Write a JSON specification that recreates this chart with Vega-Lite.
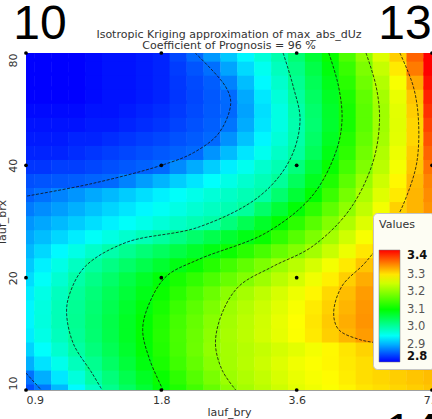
{
"$schema": "https://vega.github.io/schema/vega-lite/v6.json",
"width": 406, "height": 337,
"autosize": {"type": "none"},
"padding": {"left": 26, "top": 53, "right": 0, "bottom": 29},
"background": "white",
"config": {"font": "DejaVu Sans", "view": {"stroke": "#a0a0a0", "strokeWidth": 1}},
"title": {"text": ["Isotropic Kriging  approximation of max_abs_dUz", "Coefficient of Prognosis = 96 %"], "fontSize": 11, "fontWeight": "normal", "color": "#333", "anchor": "middle", "offset": 3, "dy": 53, "lineHeight": 11},
"datasets": {
"grid": [
{"x":0.9,"y":10,"v":2.845},{"x":0.981,"y":10,"v":2.868},{"x":1.07,"y":10,"v":2.905},{"x":1.167,"y":10,"v":2.943},{"x":1.273,"y":10,"v":2.981},{"x":1.388,"y":10,"v":3.014},{"x":1.514,"y":10,"v":3.041},{"x":1.651,"y":10,"v":3.068},{"x":1.8,"y":10,"v":3.095},{"x":1.963,"y":10,"v":3.121},{"x":2.141,"y":10,"v":3.147},{"x":2.334,"y":10,"v":3.173},{"x":2.546,"y":10,"v":3.2},{"x":2.776,"y":10,"v":3.219},{"x":3.027,"y":10,"v":3.234},{"x":3.301,"y":10,"v":3.249},{"x":3.6,"y":10,"v":3.265},{"x":3.926,"y":10,"v":3.274},{"x":4.281,"y":10,"v":3.283},{"x":4.669,"y":10,"v":3.291},{"x":5.091,"y":10,"v":3.3},{"x":5.552,"y":10,"v":3.305},{"x":6.055,"y":10,"v":3.31},{"x":6.603,"y":10,"v":3.315},{"x":7.2,"y":10,"v":3.32},
{"x":0.9,"y":10.91,"v":2.865},{"x":0.981,"y":10.91,"v":2.899},{"x":1.07,"y":10.91,"v":2.932},{"x":1.167,"y":10.91,"v":2.966},{"x":1.273,"y":10.91,"v":3.0},{"x":1.388,"y":10.91,"v":3.026},{"x":1.514,"y":10.91,"v":3.053},{"x":1.651,"y":10.91,"v":3.079},{"x":1.8,"y":10.91,"v":3.106},{"x":1.963,"y":10.91,"v":3.133},{"x":2.141,"y":10.91,"v":3.161},{"x":2.334,"y":10.91,"v":3.188},{"x":2.546,"y":10.91,"v":3.213},{"x":2.776,"y":10.91,"v":3.227},{"x":3.027,"y":10.91,"v":3.241},{"x":3.301,"y":10.91,"v":3.256},{"x":3.6,"y":10.91,"v":3.27},{"x":3.926,"y":10.91,"v":3.279},{"x":4.281,"y":10.91,"v":3.287},{"x":4.669,"y":10.91,"v":3.296},{"x":5.091,"y":10.91,"v":3.305},{"x":5.552,"y":10.91,"v":3.31},{"x":6.055,"y":10.91,"v":3.315},{"x":6.603,"y":10.91,"v":3.32},{"x":7.2,"y":10.91,"v":3.325},
{"x":0.9,"y":11.89,"v":2.9},{"x":0.981,"y":11.89,"v":2.929},{"x":1.07,"y":11.89,"v":2.957},{"x":1.167,"y":11.89,"v":2.986},{"x":1.273,"y":11.89,"v":3.013},{"x":1.388,"y":11.89,"v":3.039},{"x":1.514,"y":11.89,"v":3.065},{"x":1.651,"y":11.89,"v":3.091},{"x":1.8,"y":11.89,"v":3.118},{"x":1.963,"y":11.89,"v":3.145},{"x":2.141,"y":11.89,"v":3.172},{"x":2.334,"y":11.89,"v":3.199},{"x":2.546,"y":11.89,"v":3.218},{"x":2.776,"y":11.89,"v":3.233},{"x":3.027,"y":11.89,"v":3.247},{"x":3.301,"y":11.89,"v":3.261},{"x":3.6,"y":11.89,"v":3.275},{"x":3.926,"y":11.89,"v":3.283},{"x":4.281,"y":11.89,"v":3.29},{"x":4.669,"y":11.89,"v":3.298},{"x":5.091,"y":11.89,"v":3.305},{"x":5.552,"y":11.89,"v":3.311},{"x":6.055,"y":11.89,"v":3.318},{"x":6.603,"y":11.89,"v":3.324},{"x":7.2,"y":11.89,"v":3.33},
{"x":0.9,"y":12.97,"v":2.92},{"x":0.981,"y":12.97,"v":2.947},{"x":1.07,"y":12.97,"v":2.974},{"x":1.167,"y":12.97,"v":3.001},{"x":1.273,"y":12.97,"v":3.025},{"x":1.388,"y":12.97,"v":3.049},{"x":1.514,"y":12.97,"v":3.073},{"x":1.651,"y":12.97,"v":3.098},{"x":1.8,"y":12.97,"v":3.124},{"x":1.963,"y":12.97,"v":3.151},{"x":2.141,"y":12.97,"v":3.178},{"x":2.334,"y":12.97,"v":3.205},{"x":2.546,"y":12.97,"v":3.219},{"x":2.776,"y":12.97,"v":3.231},{"x":3.027,"y":12.97,"v":3.242},{"x":3.301,"y":12.97,"v":3.254},{"x":3.6,"y":12.97,"v":3.265},{"x":3.926,"y":12.97,"v":3.277},{"x":4.281,"y":12.97,"v":3.289},{"x":4.669,"y":12.97,"v":3.3},{"x":5.091,"y":12.97,"v":3.312},{"x":5.552,"y":12.97,"v":3.325},{"x":6.055,"y":12.97,"v":3.335},{"x":6.603,"y":12.97,"v":3.34},{"x":7.2,"y":12.97,"v":3.34},
{"x":0.9,"y":14.14,"v":2.935},{"x":0.981,"y":14.14,"v":2.96},{"x":1.07,"y":14.14,"v":2.985},{"x":1.167,"y":14.14,"v":3.009},{"x":1.273,"y":14.14,"v":3.032},{"x":1.388,"y":14.14,"v":3.055},{"x":1.514,"y":14.14,"v":3.078},{"x":1.651,"y":14.14,"v":3.101},{"x":1.8,"y":14.14,"v":3.127},{"x":1.963,"y":14.14,"v":3.152},{"x":2.141,"y":14.14,"v":3.177},{"x":2.334,"y":14.14,"v":3.202},{"x":2.546,"y":14.14,"v":3.221},{"x":2.776,"y":14.14,"v":3.236},{"x":3.027,"y":14.14,"v":3.252},{"x":3.301,"y":14.14,"v":3.267},{"x":3.6,"y":14.14,"v":3.283},{"x":3.926,"y":14.14,"v":3.298},{"x":4.281,"y":14.14,"v":3.314},{"x":4.669,"y":14.14,"v":3.33},{"x":5.091,"y":14.14,"v":3.345},{"x":5.552,"y":14.14,"v":3.355},{"x":6.055,"y":14.14,"v":3.36},{"x":6.603,"y":14.14,"v":3.36},{"x":7.2,"y":14.14,"v":3.355},
{"x":0.9,"y":15.42,"v":2.94},{"x":0.981,"y":15.42,"v":2.965},{"x":1.07,"y":15.42,"v":2.989},{"x":1.167,"y":15.42,"v":3.012},{"x":1.273,"y":15.42,"v":3.034},{"x":1.388,"y":15.42,"v":3.056},{"x":1.514,"y":15.42,"v":3.078},{"x":1.651,"y":15.42,"v":3.1},{"x":1.8,"y":15.42,"v":3.124},{"x":1.963,"y":15.42,"v":3.149},{"x":2.141,"y":15.42,"v":3.173},{"x":2.334,"y":15.42,"v":3.198},{"x":2.546,"y":15.42,"v":3.218},{"x":2.776,"y":15.42,"v":3.235},{"x":3.027,"y":15.42,"v":3.251},{"x":3.301,"y":15.42,"v":3.268},{"x":3.6,"y":15.42,"v":3.284},{"x":3.926,"y":15.42,"v":3.3},{"x":4.281,"y":15.42,"v":3.317},{"x":4.669,"y":15.42,"v":3.335},{"x":5.091,"y":15.42,"v":3.35},{"x":5.552,"y":15.42,"v":3.362},{"x":6.055,"y":15.42,"v":3.37},{"x":6.603,"y":15.42,"v":3.37},{"x":7.2,"y":15.42,"v":3.36},
{"x":0.9,"y":16.82,"v":2.94},{"x":0.981,"y":16.82,"v":2.964},{"x":1.07,"y":16.82,"v":2.988},{"x":1.167,"y":16.82,"v":3.01},{"x":1.273,"y":16.82,"v":3.031},{"x":1.388,"y":16.82,"v":3.052},{"x":1.514,"y":16.82,"v":3.073},{"x":1.651,"y":16.82,"v":3.094},{"x":1.8,"y":16.82,"v":3.117},{"x":1.963,"y":16.82,"v":3.142},{"x":2.141,"y":16.82,"v":3.166},{"x":2.334,"y":16.82,"v":3.19},{"x":2.546,"y":16.82,"v":3.213},{"x":2.776,"y":16.82,"v":3.23},{"x":3.027,"y":16.82,"v":3.247},{"x":3.301,"y":16.82,"v":3.263},{"x":3.6,"y":16.82,"v":3.28},{"x":3.926,"y":16.82,"v":3.297},{"x":4.281,"y":16.82,"v":3.313},{"x":4.669,"y":16.82,"v":3.33},{"x":5.091,"y":16.82,"v":3.348},{"x":5.552,"y":16.82,"v":3.362},{"x":6.055,"y":16.82,"v":3.37},{"x":6.603,"y":16.82,"v":3.37},{"x":7.2,"y":16.82,"v":3.36},
{"x":0.9,"y":18.34,"v":2.935},{"x":0.981,"y":18.34,"v":2.96},{"x":1.07,"y":18.34,"v":2.984},{"x":1.167,"y":18.34,"v":3.007},{"x":1.273,"y":18.34,"v":3.027},{"x":1.388,"y":18.34,"v":3.047},{"x":1.514,"y":18.34,"v":3.066},{"x":1.651,"y":18.34,"v":3.086},{"x":1.8,"y":18.34,"v":3.107},{"x":1.963,"y":18.34,"v":3.13},{"x":2.141,"y":18.34,"v":3.154},{"x":2.334,"y":18.34,"v":3.177},{"x":2.546,"y":18.34,"v":3.201},{"x":2.776,"y":18.34,"v":3.22},{"x":3.027,"y":18.34,"v":3.238},{"x":3.301,"y":18.34,"v":3.255},{"x":3.6,"y":18.34,"v":3.273},{"x":3.926,"y":18.34,"v":3.29},{"x":4.281,"y":18.34,"v":3.308},{"x":4.669,"y":18.34,"v":3.325},{"x":5.091,"y":18.34,"v":3.345},{"x":5.552,"y":18.34,"v":3.36},{"x":6.055,"y":18.34,"v":3.37},{"x":6.603,"y":18.34,"v":3.37},{"x":7.2,"y":18.34,"v":3.36},
{"x":0.9,"y":20,"v":2.925},{"x":0.981,"y":20,"v":2.949},{"x":1.07,"y":20,"v":2.973},{"x":1.167,"y":20,"v":2.998},{"x":1.273,"y":20,"v":3.018},{"x":1.388,"y":20,"v":3.037},{"x":1.514,"y":20,"v":3.057},{"x":1.651,"y":20,"v":3.076},{"x":1.8,"y":20,"v":3.096},{"x":1.963,"y":20,"v":3.116},{"x":2.141,"y":20,"v":3.135},{"x":2.334,"y":20,"v":3.155},{"x":2.546,"y":20,"v":3.175},{"x":2.776,"y":20,"v":3.194},{"x":3.027,"y":20,"v":3.214},{"x":3.301,"y":20,"v":3.234},{"x":3.6,"y":20,"v":3.254},{"x":3.926,"y":20,"v":3.274},{"x":4.281,"y":20,"v":3.294},{"x":4.669,"y":20,"v":3.314},{"x":5.091,"y":20,"v":3.335},{"x":5.552,"y":20,"v":3.355},{"x":6.055,"y":20,"v":3.365},{"x":6.603,"y":20,"v":3.365},{"x":7.2,"y":20,"v":3.36},
{"x":0.9,"y":21.81,"v":2.915},{"x":0.981,"y":21.81,"v":2.937},{"x":1.07,"y":21.81,"v":2.96},{"x":1.167,"y":21.81,"v":2.982},{"x":1.273,"y":21.81,"v":3.003},{"x":1.388,"y":21.81,"v":3.02},{"x":1.514,"y":21.81,"v":3.037},{"x":1.651,"y":21.81,"v":3.054},{"x":1.8,"y":21.81,"v":3.071},{"x":1.963,"y":21.81,"v":3.088},{"x":2.141,"y":21.81,"v":3.106},{"x":2.334,"y":21.81,"v":3.127},{"x":2.546,"y":21.81,"v":3.148},{"x":2.776,"y":21.81,"v":3.17},{"x":3.027,"y":21.81,"v":3.191},{"x":3.301,"y":21.81,"v":3.212},{"x":3.6,"y":21.81,"v":3.234},{"x":3.926,"y":21.81,"v":3.255},{"x":4.281,"y":21.81,"v":3.277},{"x":4.669,"y":21.81,"v":3.298},{"x":5.091,"y":21.81,"v":3.32},{"x":5.552,"y":21.81,"v":3.34},{"x":6.055,"y":21.81,"v":3.355},{"x":6.603,"y":21.81,"v":3.36},{"x":7.2,"y":21.81,"v":3.36},
{"x":0.9,"y":23.78,"v":2.905},{"x":0.981,"y":23.78,"v":2.923},{"x":1.07,"y":23.78,"v":2.942},{"x":1.167,"y":23.78,"v":2.96},{"x":1.273,"y":23.78,"v":2.978},{"x":1.388,"y":23.78,"v":2.996},{"x":1.514,"y":23.78,"v":3.012},{"x":1.651,"y":23.78,"v":3.028},{"x":1.8,"y":23.78,"v":3.043},{"x":1.963,"y":23.78,"v":3.058},{"x":2.141,"y":23.78,"v":3.074},{"x":2.334,"y":23.78,"v":3.089},{"x":2.546,"y":23.78,"v":3.107},{"x":2.776,"y":23.78,"v":3.129},{"x":3.027,"y":23.78,"v":3.151},{"x":3.301,"y":23.78,"v":3.173},{"x":3.6,"y":23.78,"v":3.195},{"x":3.926,"y":23.78,"v":3.218},{"x":4.281,"y":23.78,"v":3.245},{"x":4.669,"y":23.78,"v":3.272},{"x":5.091,"y":23.78,"v":3.299},{"x":5.552,"y":23.78,"v":3.325},{"x":6.055,"y":23.78,"v":3.34},{"x":6.603,"y":23.78,"v":3.35},{"x":7.2,"y":23.78,"v":3.35},
{"x":0.9,"y":25.94,"v":2.895},{"x":0.981,"y":25.94,"v":2.908},{"x":1.07,"y":25.94,"v":2.922},{"x":1.167,"y":25.94,"v":2.935},{"x":1.273,"y":25.94,"v":2.949},{"x":1.388,"y":25.94,"v":2.962},{"x":1.514,"y":25.94,"v":2.975},{"x":1.651,"y":25.94,"v":2.989},{"x":1.8,"y":25.94,"v":3.003},{"x":1.963,"y":25.94,"v":3.019},{"x":2.141,"y":25.94,"v":3.036},{"x":2.334,"y":25.94,"v":3.053},{"x":2.546,"y":25.94,"v":3.07},{"x":2.776,"y":25.94,"v":3.087},{"x":3.027,"y":25.94,"v":3.106},{"x":3.301,"y":25.94,"v":3.134},{"x":3.6,"y":25.94,"v":3.162},{"x":3.926,"y":25.94,"v":3.19},{"x":4.281,"y":25.94,"v":3.219},{"x":4.669,"y":25.94,"v":3.25},{"x":5.091,"y":25.94,"v":3.28},{"x":5.552,"y":25.94,"v":3.311},{"x":6.055,"y":25.94,"v":3.33},{"x":6.603,"y":25.94,"v":3.345},{"x":7.2,"y":25.94,"v":3.35},
{"x":0.9,"y":28.28,"v":2.885},{"x":0.981,"y":28.28,"v":2.895},{"x":1.07,"y":28.28,"v":2.906},{"x":1.167,"y":28.28,"v":2.916},{"x":1.273,"y":28.28,"v":2.927},{"x":1.388,"y":28.28,"v":2.937},{"x":1.514,"y":28.28,"v":2.948},{"x":1.651,"y":28.28,"v":2.958},{"x":1.8,"y":28.28,"v":2.969},{"x":1.963,"y":28.28,"v":2.979},{"x":2.141,"y":28.28,"v":2.99},{"x":2.334,"y":28.28,"v":3.0},{"x":2.546,"y":28.28,"v":3.025},{"x":2.776,"y":28.28,"v":3.05},{"x":3.027,"y":28.28,"v":3.075},{"x":3.301,"y":28.28,"v":3.1},{"x":3.6,"y":28.28,"v":3.131},{"x":3.926,"y":28.28,"v":3.163},{"x":4.281,"y":28.28,"v":3.194},{"x":4.669,"y":28.28,"v":3.227},{"x":5.091,"y":28.28,"v":3.26},{"x":5.552,"y":28.28,"v":3.293},{"x":6.055,"y":28.28,"v":3.322},{"x":6.603,"y":28.28,"v":3.34},{"x":7.2,"y":28.28,"v":3.35},
{"x":0.9,"y":30.84,"v":2.87},{"x":0.981,"y":30.84,"v":2.88},{"x":1.07,"y":30.84,"v":2.89},{"x":1.167,"y":30.84,"v":2.9},{"x":1.273,"y":30.84,"v":2.911},{"x":1.388,"y":30.84,"v":2.921},{"x":1.514,"y":30.84,"v":2.931},{"x":1.651,"y":30.84,"v":2.941},{"x":1.8,"y":30.84,"v":2.951},{"x":1.963,"y":30.84,"v":2.961},{"x":2.141,"y":30.84,"v":2.972},{"x":2.334,"y":30.84,"v":2.982},{"x":2.546,"y":30.84,"v":2.992},{"x":2.776,"y":30.84,"v":3.006},{"x":3.027,"y":30.84,"v":3.036},{"x":3.301,"y":30.84,"v":3.067},{"x":3.6,"y":30.84,"v":3.097},{"x":3.926,"y":30.84,"v":3.132},{"x":4.281,"y":30.84,"v":3.168},{"x":4.669,"y":30.84,"v":3.203},{"x":5.091,"y":30.84,"v":3.239},{"x":5.552,"y":30.84,"v":3.276},{"x":6.055,"y":30.84,"v":3.313},{"x":6.603,"y":30.84,"v":3.33},{"x":7.2,"y":30.84,"v":3.35},
{"x":0.9,"y":33.64,"v":2.855},{"x":0.981,"y":33.64,"v":2.864},{"x":1.07,"y":33.64,"v":2.875},{"x":1.167,"y":33.64,"v":2.885},{"x":1.273,"y":33.64,"v":2.896},{"x":1.388,"y":33.64,"v":2.906},{"x":1.514,"y":33.64,"v":2.916},{"x":1.651,"y":33.64,"v":2.927},{"x":1.8,"y":33.64,"v":2.937},{"x":1.963,"y":33.64,"v":2.948},{"x":2.141,"y":33.64,"v":2.958},{"x":2.334,"y":33.64,"v":2.969},{"x":2.546,"y":33.64,"v":2.979},{"x":2.776,"y":33.64,"v":2.99},{"x":3.027,"y":33.64,"v":3.0},{"x":3.301,"y":33.64,"v":3.033},{"x":3.6,"y":33.64,"v":3.067},{"x":3.926,"y":33.64,"v":3.1},{"x":4.281,"y":33.64,"v":3.142},{"x":4.669,"y":33.64,"v":3.185},{"x":5.091,"y":33.64,"v":3.225},{"x":5.552,"y":33.64,"v":3.262},{"x":6.055,"y":33.64,"v":3.298},{"x":6.603,"y":33.64,"v":3.33},{"x":7.2,"y":33.64,"v":3.355},
{"x":0.9,"y":36.68,"v":2.845},{"x":0.981,"y":36.68,"v":2.848},{"x":1.07,"y":36.68,"v":2.85},{"x":1.167,"y":36.68,"v":2.853},{"x":1.273,"y":36.68,"v":2.857},{"x":1.388,"y":36.68,"v":2.86},{"x":1.514,"y":36.68,"v":2.874},{"x":1.651,"y":36.68,"v":2.889},{"x":1.8,"y":36.68,"v":2.903},{"x":1.963,"y":36.68,"v":2.917},{"x":2.141,"y":36.68,"v":2.931},{"x":2.334,"y":36.68,"v":2.946},{"x":2.546,"y":36.68,"v":2.96},{"x":2.776,"y":36.68,"v":2.974},{"x":3.027,"y":36.68,"v":2.989},{"x":3.301,"y":36.68,"v":3.007},{"x":3.6,"y":36.68,"v":3.044},{"x":3.926,"y":36.68,"v":3.081},{"x":4.281,"y":36.68,"v":3.122},{"x":4.669,"y":36.68,"v":3.166},{"x":5.091,"y":36.68,"v":3.21},{"x":5.552,"y":36.68,"v":3.249},{"x":6.055,"y":36.68,"v":3.289},{"x":6.603,"y":36.68,"v":3.327},{"x":7.2,"y":36.68,"v":3.36},
{"x":0.9,"y":40,"v":2.83},{"x":0.981,"y":40,"v":2.83},{"x":1.07,"y":40,"v":2.835},{"x":1.167,"y":40,"v":2.835},{"x":1.273,"y":40,"v":2.84},{"x":1.388,"y":40,"v":2.845},{"x":1.514,"y":40,"v":2.85},{"x":1.651,"y":40,"v":2.855},{"x":1.8,"y":40,"v":2.86},{"x":1.963,"y":40,"v":2.879},{"x":2.141,"y":40,"v":2.898},{"x":2.334,"y":40,"v":2.917},{"x":2.546,"y":40,"v":2.936},{"x":2.776,"y":40,"v":2.955},{"x":3.027,"y":40,"v":2.974},{"x":3.301,"y":40,"v":2.992},{"x":3.6,"y":40,"v":3.024},{"x":3.926,"y":40,"v":3.064},{"x":4.281,"y":40,"v":3.104},{"x":4.669,"y":40,"v":3.148},{"x":5.091,"y":40,"v":3.192},{"x":5.552,"y":40,"v":3.235},{"x":6.055,"y":40,"v":3.278},{"x":6.603,"y":40,"v":3.32},{"x":7.2,"y":40,"v":3.37},
{"x":0.9,"y":43.62,"v":2.82},{"x":0.981,"y":43.62,"v":2.82},{"x":1.07,"y":43.62,"v":2.82},{"x":1.167,"y":43.62,"v":2.825},{"x":1.273,"y":43.62,"v":2.83},{"x":1.388,"y":43.62,"v":2.835},{"x":1.514,"y":43.62,"v":2.84},{"x":1.651,"y":43.62,"v":2.845},{"x":1.8,"y":43.62,"v":2.85},{"x":1.963,"y":43.62,"v":2.855},{"x":2.141,"y":43.62,"v":2.86},{"x":2.334,"y":43.62,"v":2.884},{"x":2.546,"y":43.62,"v":2.907},{"x":2.776,"y":43.62,"v":2.931},{"x":3.027,"y":43.62,"v":2.955},{"x":3.301,"y":43.62,"v":2.979},{"x":3.6,"y":43.62,"v":3.004},{"x":3.926,"y":43.62,"v":3.046},{"x":4.281,"y":43.62,"v":3.088},{"x":4.669,"y":43.62,"v":3.133},{"x":5.091,"y":43.62,"v":3.181},{"x":5.552,"y":43.62,"v":3.228},{"x":6.055,"y":43.62,"v":3.272},{"x":6.603,"y":43.62,"v":3.316},{"x":7.2,"y":43.62,"v":3.38},
{"x":0.9,"y":47.57,"v":2.815},{"x":0.981,"y":47.57,"v":2.815},{"x":1.07,"y":47.57,"v":2.815},{"x":1.167,"y":47.57,"v":2.82},{"x":1.273,"y":47.57,"v":2.82},{"x":1.388,"y":47.57,"v":2.825},{"x":1.514,"y":47.57,"v":2.83},{"x":1.651,"y":47.57,"v":2.835},{"x":1.8,"y":47.57,"v":2.84},{"x":1.963,"y":47.57,"v":2.846},{"x":2.141,"y":47.57,"v":2.852},{"x":2.334,"y":47.57,"v":2.859},{"x":2.546,"y":47.57,"v":2.883},{"x":2.776,"y":47.57,"v":2.911},{"x":3.027,"y":47.57,"v":2.94},{"x":3.301,"y":47.57,"v":2.969},{"x":3.6,"y":47.57,"v":2.997},{"x":3.926,"y":47.57,"v":3.038},{"x":4.281,"y":47.57,"v":3.079},{"x":4.669,"y":47.57,"v":3.124},{"x":5.091,"y":47.57,"v":3.172},{"x":5.552,"y":47.57,"v":3.219},{"x":6.055,"y":47.57,"v":3.265},{"x":6.603,"y":47.57,"v":3.31},{"x":7.2,"y":47.57,"v":3.39},
{"x":0.9,"y":51.87,"v":2.81},{"x":0.981,"y":51.87,"v":2.81},{"x":1.07,"y":51.87,"v":2.81},{"x":1.167,"y":51.87,"v":2.81},{"x":1.273,"y":51.87,"v":2.815},{"x":1.388,"y":51.87,"v":2.815},{"x":1.514,"y":51.87,"v":2.82},{"x":1.651,"y":51.87,"v":2.825},{"x":1.8,"y":51.87,"v":2.83},{"x":1.963,"y":51.87,"v":2.838},{"x":2.141,"y":51.87,"v":2.846},{"x":2.334,"y":51.87,"v":2.854},{"x":2.546,"y":51.87,"v":2.866},{"x":2.776,"y":51.87,"v":2.898},{"x":3.027,"y":51.87,"v":2.93},{"x":3.301,"y":51.87,"v":2.962},{"x":3.6,"y":51.87,"v":2.994},{"x":3.926,"y":51.87,"v":3.032},{"x":4.281,"y":51.87,"v":3.072},{"x":4.669,"y":51.87,"v":3.115},{"x":5.091,"y":51.87,"v":3.165},{"x":5.552,"y":51.87,"v":3.215},{"x":6.055,"y":51.87,"v":3.263},{"x":6.603,"y":51.87,"v":3.31},{"x":7.2,"y":51.87,"v":3.4},
{"x":0.9,"y":56.57,"v":2.805},{"x":0.981,"y":56.57,"v":2.805},{"x":1.07,"y":56.57,"v":2.805},{"x":1.167,"y":56.57,"v":2.805},{"x":1.273,"y":56.57,"v":2.81},{"x":1.388,"y":56.57,"v":2.81},{"x":1.514,"y":56.57,"v":2.815},{"x":1.651,"y":56.57,"v":2.82},{"x":1.8,"y":56.57,"v":2.825},{"x":1.963,"y":56.57,"v":2.833},{"x":2.141,"y":56.57,"v":2.842},{"x":2.334,"y":56.57,"v":2.851},{"x":2.546,"y":56.57,"v":2.859},{"x":2.776,"y":56.57,"v":2.892},{"x":3.027,"y":56.57,"v":2.927},{"x":3.301,"y":56.57,"v":2.962},{"x":3.6,"y":56.57,"v":2.997},{"x":3.926,"y":56.57,"v":3.035},{"x":4.281,"y":56.57,"v":3.073},{"x":4.669,"y":56.57,"v":3.115},{"x":5.091,"y":56.57,"v":3.165},{"x":5.552,"y":56.57,"v":3.215},{"x":6.055,"y":56.57,"v":3.265},{"x":6.603,"y":56.57,"v":3.315},{"x":7.2,"y":56.57,"v":3.41},
{"x":0.9,"y":61.69,"v":2.8},{"x":0.981,"y":61.69,"v":2.8},{"x":1.07,"y":61.69,"v":2.8},{"x":1.167,"y":61.69,"v":2.8},{"x":1.273,"y":61.69,"v":2.805},{"x":1.388,"y":61.69,"v":2.81},{"x":1.514,"y":61.69,"v":2.81},{"x":1.651,"y":61.69,"v":2.815},{"x":1.8,"y":61.69,"v":2.82},{"x":1.963,"y":61.69,"v":2.83},{"x":2.141,"y":61.69,"v":2.84},{"x":2.334,"y":61.69,"v":2.85},{"x":2.546,"y":61.69,"v":2.86},{"x":2.776,"y":61.69,"v":2.896},{"x":3.027,"y":61.69,"v":2.932},{"x":3.301,"y":61.69,"v":2.968},{"x":3.6,"y":61.69,"v":3.004},{"x":3.926,"y":61.69,"v":3.041},{"x":4.281,"y":61.69,"v":3.078},{"x":4.669,"y":61.69,"v":3.12},{"x":5.091,"y":61.69,"v":3.17},{"x":5.552,"y":61.69,"v":3.22},{"x":6.055,"y":61.69,"v":3.27},{"x":6.603,"y":61.69,"v":3.32},{"x":7.2,"y":61.69,"v":3.42},
{"x":0.9,"y":67.27,"v":2.8},{"x":0.981,"y":67.27,"v":2.8},{"x":1.07,"y":67.27,"v":2.8},{"x":1.167,"y":67.27,"v":2.8},{"x":1.273,"y":67.27,"v":2.805},{"x":1.388,"y":67.27,"v":2.81},{"x":1.514,"y":67.27,"v":2.81},{"x":1.651,"y":67.27,"v":2.815},{"x":1.8,"y":67.27,"v":2.82},{"x":1.963,"y":67.27,"v":2.831},{"x":2.141,"y":67.27,"v":2.842},{"x":2.334,"y":67.27,"v":2.853},{"x":2.546,"y":67.27,"v":2.874},{"x":2.776,"y":67.27,"v":2.908},{"x":3.027,"y":67.27,"v":2.942},{"x":3.301,"y":67.27,"v":2.976},{"x":3.6,"y":67.27,"v":3.011},{"x":3.926,"y":67.27,"v":3.048},{"x":4.281,"y":67.27,"v":3.085},{"x":4.669,"y":67.27,"v":3.13},{"x":5.091,"y":67.27,"v":3.18},{"x":5.552,"y":67.27,"v":3.23},{"x":6.055,"y":67.27,"v":3.28},{"x":6.603,"y":67.27,"v":3.338},{"x":7.2,"y":67.27,"v":3.43},
{"x":0.9,"y":73.36,"v":2.8},{"x":0.981,"y":73.36,"v":2.8},{"x":1.07,"y":73.36,"v":2.8},{"x":1.167,"y":73.36,"v":2.8},{"x":1.273,"y":73.36,"v":2.805},{"x":1.388,"y":73.36,"v":2.81},{"x":1.514,"y":73.36,"v":2.81},{"x":1.651,"y":73.36,"v":2.815},{"x":1.8,"y":73.36,"v":2.82},{"x":1.963,"y":73.36,"v":2.834},{"x":2.141,"y":73.36,"v":2.848},{"x":2.334,"y":73.36,"v":2.863},{"x":2.546,"y":73.36,"v":2.893},{"x":2.776,"y":73.36,"v":2.924},{"x":3.027,"y":73.36,"v":2.954},{"x":3.301,"y":73.36,"v":2.985},{"x":3.6,"y":73.36,"v":3.019},{"x":3.926,"y":73.36,"v":3.056},{"x":4.281,"y":73.36,"v":3.093},{"x":4.669,"y":73.36,"v":3.14},{"x":5.091,"y":73.36,"v":3.19},{"x":5.552,"y":73.36,"v":3.243},{"x":6.055,"y":73.36,"v":3.298},{"x":6.603,"y":73.36,"v":3.365},{"x":7.2,"y":73.36,"v":3.44},
{"x":0.9,"y":80,"v":2.8},{"x":0.981,"y":80,"v":2.8},{"x":1.07,"y":80,"v":2.8},{"x":1.167,"y":80,"v":2.8},{"x":1.273,"y":80,"v":2.805},{"x":1.388,"y":80,"v":2.81},{"x":1.514,"y":80,"v":2.81},{"x":1.651,"y":80,"v":2.815},{"x":1.8,"y":80,"v":2.82},{"x":1.963,"y":80,"v":2.84},{"x":2.141,"y":80,"v":2.86},{"x":2.334,"y":80,"v":2.887},{"x":2.546,"y":80,"v":2.914},{"x":2.776,"y":80,"v":2.941},{"x":3.027,"y":80,"v":2.968},{"x":3.301,"y":80,"v":2.995},{"x":3.6,"y":80,"v":3.03},{"x":3.926,"y":80,"v":3.067},{"x":4.281,"y":80,"v":3.105},{"x":4.669,"y":80,"v":3.155},{"x":5.091,"y":80,"v":3.205},{"x":5.552,"y":80,"v":3.26},{"x":6.055,"y":80,"v":3.315},{"x":6.603,"y":80,"v":3.38},{"x":7.2,"y":80,"v":3.45}
],
"lines": [
{"line":"A","o":1,"x":2.141,"y":80},{"line":"A","o":2,"x":2.502,"y":64.98},{"line":"A","o":3,"x":2.568,"y":58.56},{"line":"A","o":4,"x":2.417,"y":48.82},{"line":"A","o":5,"x":2.122,"y":43.24},{"line":"A","o":6,"x":1.8,"y":40},{"line":"A","o":7,"x":1.262,"y":35.74},{"line":"A","o":8,"x":0.9,"y":33.06},
{"line":"A2","o":1,"x":0.9,"y":11.1},{"line":"A2","o":2,"x":0.973,"y":10},
{"line":"B","o":1,"x":3.359,"y":80},{"line":"B","o":2,"x":3.538,"y":64.98},{"line":"B","o":3,"x":3.663,"y":52.78},{"line":"B","o":4,"x":3.477,"y":41.41},{"line":"B","o":5,"x":2.976,"y":33.06},{"line":"B","o":6,"x":2.178,"y":27.32},{"line":"B","o":7,"x":1.501,"y":24.84},{"line":"B","o":8,"x":1.219,"y":21.44},{"line":"B","o":9,"x":1.127,"y":18.18},{"line":"B","o":10,"x":1.108,"y":16.1},{"line":"B","o":11,"x":1.147,"y":13.31},{"line":"B","o":12,"x":1.262,"y":11.1},{"line":"B","o":13,"x":1.329,"y":10},
{"line":"C","o":1,"x":4.244,"y":80},{"line":"C","o":2,"x":4.463,"y":64.98},{"line":"C","o":3,"x":4.541,"y":52.78},{"line":"C","o":4,"x":4.394,"y":43.24},{"line":"C","o":5,"x":3.892,"y":33.06},{"line":"C","o":6,"x":3.08,"y":26.39},{"line":"C","o":7,"x":2.178,"y":22.38},{"line":"C","o":8,"x":1.847,"y":20.17},{"line":"C","o":9,"x":1.694,"y":17.11},{"line":"C","o":10,"x":1.636,"y":14.52},{"line":"C","o":11,"x":1.694,"y":12.1},{"line":"C","o":12,"x":1.816,"y":10},
{"line":"D","o":1,"x":5.135,"y":80},{"line":"D","o":2,"x":5.409,"y":64.98},{"line":"D","o":3,"x":5.503,"y":52.78},{"line":"D","o":4,"x":5.317,"y":40.7},{"line":"D","o":5,"x":4.71,"y":30.31},{"line":"D","o":6,"x":3.892,"y":24.2},{"line":"D","o":7,"x":3.189,"y":21.44},{"line":"D","o":8,"x":2.681,"y":18.99},{"line":"D","o":9,"x":2.459,"y":16.1},{"line":"D","o":10,"x":2.375,"y":13.31},{"line":"D","o":11,"x":2.459,"y":11.29},{"line":"D","o":12,"x":2.635,"y":10},
{"line":"E","o":1,"x":6.108,"y":80},{"line":"E","o":2,"x":6.545,"y":64.98},{"line":"E","o":3,"x":6.718,"y":52.78},{"line":"E","o":4,"x":6.66,"y":40.7},{"line":"E","o":5,"x":6.323,"y":33.06},{"line":"E","o":6,"x":5.951,"y":28.28},{"line":"E","o":7,"x":5.457,"y":24.2},{"line":"E","o":8,"x":5.091,"y":21.81},{"line":"E","o":9,"x":4.541,"y":18.99},{"line":"E","o":10,"x":4.351,"y":16.1},{"line":"E","o":11,"x":4.463,"y":14.52},{"line":"E","o":12,"x":4.961,"y":13.66},{"line":"E","o":13,"x":5.552,"y":13.31},{"line":"E","o":14,"x":7.2,"y":12.53}
],
"pts": [
{"x":0.9,"y":10},{"x":1.8,"y":10},{"x":3.6,"y":10},{"x":7.2,"y":10},
{"x":0.9,"y":20},{"x":1.8,"y":20},{"x":3.6,"y":20},{"x":7.2,"y":20},
{"x":0.9,"y":40},{"x":1.8,"y":40},{"x":3.6,"y":40},{"x":7.2,"y":40},
{"x":0.9,"y":80},{"x":1.8,"y":80},{"x":3.6,"y":80},{"x":7.2,"y":80}
],
"big": [
{"t":"10","x":0.967,"y":95},{"t":"13","x":6.27,"y":95},{"t":"14","x":6.5,"y":7.65}
]
},
"layer": [
{
"data": {"name": "grid"},
"mark": {"type": "square", "size": 300, "opacity": 1, "strokeWidth": 0, "clip": true},
"encoding": {
"x": {"field": "x", "type": "quantitative", "scale": {"type": "log", "domain": [0.9, 7.2], "nice": false, "zero": false},
 "axis": {"values": [0.9, 1.8, 3.6, 7.2], "format": ".1f", "title": "lauf_bry", "ticks": false, "domain": false, "grid": false, "labelFontSize": 11, "labelColor": "#333", "labelPadding": 4, "labelOverlap": false, "labelFlush": false, "labelAlign": {"condition": {"test": "datum.value < 1", "value": "left"}, "value": "center"}, "titleFontSize": 11, "titleFontWeight": "normal", "titleColor": "#333", "titlePadding": 1}},
"y": {"field": "y", "type": "quantitative", "scale": {"type": "log", "domain": [10, 80], "nice": false, "zero": false},
 "axis": {"values": [10, 20, 40, 80], "format": "d", "title": "lauf_brx", "ticks": false, "domain": false, "grid": false, "labelFontSize": 11, "labelColor": "#333", "labelAngle": -90, "labelBaseline": "bottom", "labelPadding": 8, "labelOverlap": false, "labelFlush": false, "labelAlign": {"condition": [{"test": "datum.value > 70", "value": "right"}, {"test": "datum.value < 11", "value": "left"}], "value": "center"}, "titleFontSize": 11, "titleFontWeight": "normal", "titleColor": "#333", "titlePadding": 0}},
"color": {"field": "v", "type": "quantitative",
 "scale": {"domain": [2.8, 2.945, 3.1, 3.285, 3.44], "range": ["#0000ff", "#00ffff", "#00ff00", "#ffff00", "#ff0000"], "interpolate": "rgb", "clamp": true},
 "legend": {"title": "Values", "orient": "none", "legendX": 347, "legendY": 160, "direction": "vertical", "gradientLength": 112, "gradientThickness": 21, "values": [2.8, 2.9, 3.0, 3.1, 3.2, 3.3, 3.44], "format": ".1f", "labelFontSize": 11.5, "labelColor": {"expr": "datum.value <= 2.8 || datum.value >= 3.44 ? '#111' : '#555'"}, "labelFontWeight": {"expr": "datum.value <= 2.8 || datum.value >= 3.44 ? 'bold' : 'normal'"}, "labelOffset": 7, "labelFlush": false, "labelOverlap": false, "titleFontSize": 11, "titleFontWeight": "normal", "titleColor": "#333", "titlePadding": 20, "padding": 6, "fillColor": "#fdfdf3", "strokeColor": "#c4c4c4", "cornerRadius": 4, "zindex": 1, "gradientStrokeColor": "#777", "gradientStrokeWidth": 0.5}}
}
},
{
"data": {"name": "lines"},
"mark": {"type": "line", "color": "#111", "strokeWidth": 0.8, "strokeDash": [3, 1.5], "interpolate": "catmull-rom", "clip": true},
"encoding": {
"x": {"field": "x", "type": "quantitative", "scale": {"type": "log", "domain": [0.9, 7.2], "nice": false, "zero": false}},
"y": {"field": "y", "type": "quantitative", "scale": {"type": "log", "domain": [10, 80], "nice": false, "zero": false}},
"detail": {"field": "line", "type": "nominal"},
"order": {"field": "o", "type": "quantitative"}
}
},
{
"data": {"name": "pts"},
"mark": {"type": "circle", "size": 14, "color": "black", "opacity": 1},
"encoding": {
"x": {"field": "x", "type": "quantitative", "scale": {"type": "log", "domain": [0.9, 7.2], "nice": false, "zero": false}},
"y": {"field": "y", "type": "quantitative", "scale": {"type": "log", "domain": [10, 80], "nice": false, "zero": false}}
}
},
{
"data": {"name": "big"},
"mark": {"type": "text", "font": "Liberation Sans", "fontSize": 48, "color": "black", "baseline": "middle", "align": "center", "clip": false},
"encoding": {
"x": {"field": "x", "type": "quantitative", "scale": {"type": "log", "domain": [0.9, 7.2], "nice": false, "zero": false}},
"y": {"field": "y", "type": "quantitative", "scale": {"type": "log", "domain": [10, 80], "nice": false, "zero": false}},
"text": {"field": "t", "type": "nominal"}
}
}
]
}
